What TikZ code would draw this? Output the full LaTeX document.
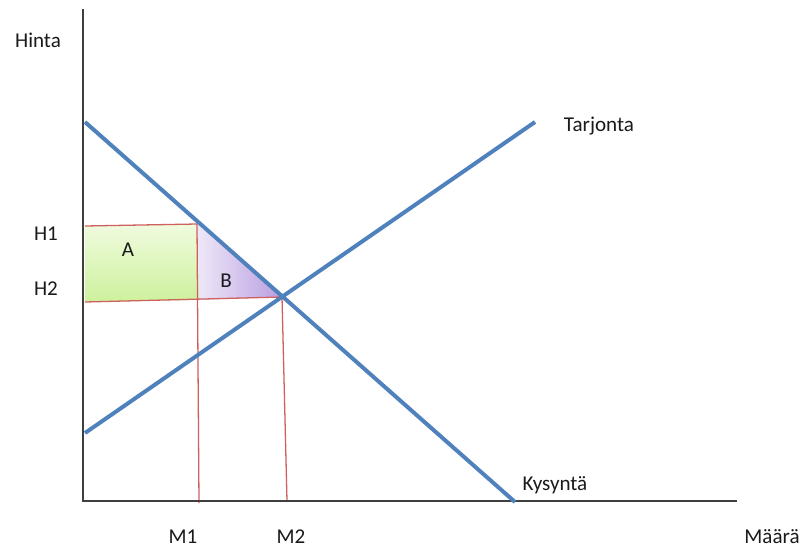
\documentclass[tikz,border=0pt]{standalone}
\usepackage{fontspec}
\setmainfont{Carlito}
\usetikzlibrary{positioning}
\definecolor{CurveBlue}{HTML}{4F81BD}
\definecolor{GuideRed}{HTML}{D0605E}
\definecolor{AxisGray}{HTML}{3F3F3F}
\definecolor{LabelInk}{HTML}{1A1A1A}
\definecolor{GreenTop}{HTML}{F0FBDF}
\definecolor{GreenBot}{HTML}{CDF19C}
\definecolor{LilacLight}{HTML}{EFE8F8}
\definecolor{LilacDark}{HTML}{B89EE0}

\begin{document}
\begin{tikzpicture}[x=0.03cm, y=-0.03cm,
    curve/.style={CurveBlue, line width=3.4pt},
    guide/.style={GuideRed, line width=1.1pt},
    axisline/.style={AxisGray, line width=1.1pt},
    lbl/.style={font=\fontsize{18}{22}\selectfont, text=LabelInk, inner sep=0pt}]
  \useasboundingbox (0,0) rectangle (805,550);
  % key points
  \coordinate (yTop) at (83,9);
  \coordinate (org) at (83,501);
  \coordinate (xEnd) at (737,501);
  \coordinate (dStart) at (85,122);
  \coordinate (dEnd) at (515,502);
  \coordinate (sStart) at (85,433);
  \coordinate (sEnd) at (535,122);
  \coordinate (eq) at (282,297);
  \coordinate (h1L) at (85,226);
  \coordinate (h1R) at (197,224);
  \coordinate (h2L) at (85,302);
  \coordinate (h2R) at (199,300);
  \coordinate (m1) at (199,503);
  \coordinate (m2) at (287,501);
  % areas
  \shade[top color=GreenTop, bottom color=GreenBot] (h1L) -- (h1R) -- (h2R) -- (h2L) -- cycle;
  \shade[left color=LilacLight, right color=LilacDark] (h1R) -- (eq) -- (h2R) -- cycle;
  % guide lines
  \draw[guide] (h1L) -- (h1R) -- (m1);
  \draw[guide] (h2L) -- (eq) -- (m2);
  % axes
  \draw[axisline] (yTop) -- (org) -- (xEnd);
  % demand and supply
  \draw[curve] (dStart) -- (dEnd);
  \draw[curve] (sStart) -- (sEnd);
  % labels
  \node[lbl] (hinta) at (38,40) {Hinta};
  \node[lbl] (h1) at (46,234) {H1};
  \node[lbl] (h2) at (46,289) {H2};
  \node[lbl] (m1lbl) at (183,537) {M1};
  \node[lbl] (m2lbl) at (291,537) {M2};
  \node[lbl] (maara) at (772,537) {Määrä};
  \node[lbl] (tarjonta) at (599,126) {Tarjonta};
  \node[lbl] (kysynta) at (555,485) {Kysyntä};
  \node[lbl] (areaA) at (128,250) {A};
  \node[lbl] (areaB) at (226,281) {B};
\end{tikzpicture}
\end{document}
